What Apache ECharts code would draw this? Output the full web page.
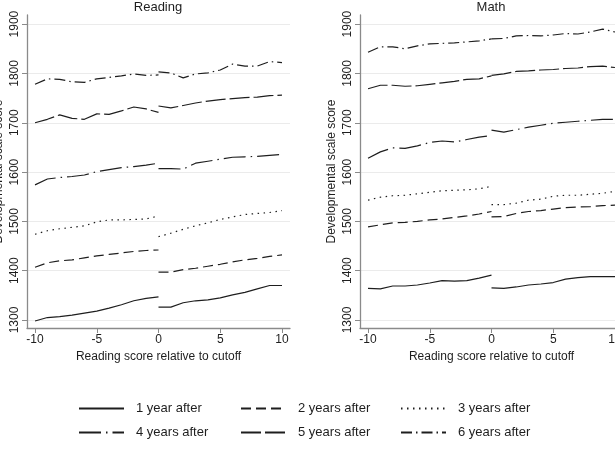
<!DOCTYPE html>
<html>
<head>
<meta charset="utf-8">
<script src="https://cdn.jsdelivr.net/npm/echarts@6/dist/echarts.min.js"></script>
<style>
  html, body { margin: 0; padding: 0; background: #fff; }
  #chart { width: 615px; height: 461px; }
</style>
</head>
<body>
<div id="chart"></div>
<script>
// score relative to cutoff, below and above (both segments meet at 0)
var xBelow = [-10, -9, -8, -7, -6, -5, -4, -3, -2, -1, 0];
var xAbove = [0, 1, 2, 3, 4, 5, 6, 7, 8, 9, 10];

var yearNames = ['1 year after', '2 years after', '3 years after',
                 '4 years after', '5 years after', '6 years after'];

var xTicks = [-10, -5, 0, 5, 10];
var yTicks = [1300, 1400, 1500, 1600, 1700, 1800, 1900];

// Reading panel, one row per year after
var readingBelow = [
  [1298, 1305, 1307, 1310, 1314, 1318, 1324, 1331, 1339, 1344, 1347],
  [1407, 1416, 1420, 1422, 1426, 1430, 1433, 1436, 1439, 1441, 1442],
  [1474, 1481, 1485, 1488, 1491, 1499, 1503, 1503, 1504, 1505, 1511],
  [1574, 1586, 1589, 1591, 1594, 1601, 1605, 1609, 1611, 1614, 1618],
  [1700, 1707, 1716, 1709, 1707, 1718, 1717, 1724, 1732, 1728, 1721],
  [1778, 1789, 1788, 1783, 1782, 1789, 1792, 1795, 1799, 1796, 1797]
];
var readingAbove = [
  [1326, 1326, 1335, 1339, 1341, 1345, 1351, 1356, 1363, 1370, 1370],
  [1397, 1397, 1402, 1405, 1409, 1413, 1418, 1422, 1425, 1429, 1432],
  [1469, 1476, 1484, 1491, 1497, 1504, 1509, 1514, 1516, 1518, 1522],
  [1607, 1607, 1606, 1618, 1622, 1626, 1630, 1631, 1632, 1634, 1636],
  [1734, 1730, 1735, 1740, 1744, 1747, 1749, 1751, 1752, 1755, 1756],
  [1803, 1801, 1791, 1799, 1801, 1807, 1819, 1815, 1815, 1824, 1822]
];

// Math panel
var mathBelow = [
  [1364, 1363, 1369, 1369, 1371, 1375, 1380, 1379, 1380, 1385, 1391],
  [1489, 1493, 1497, 1498, 1500, 1503, 1505, 1508, 1511, 1515, 1520],
  [1543, 1549, 1552, 1553, 1556, 1559, 1562, 1563, 1564, 1566, 1571],
  [1628, 1641, 1649, 1648, 1653, 1660, 1663, 1661, 1666, 1671, 1674],
  [1769, 1776, 1776, 1774, 1775, 1778, 1781, 1784, 1788, 1789, 1795],
  [1843, 1854, 1854, 1850, 1856, 1860, 1861, 1862, 1864, 1866, 1870]
];
var mathAbove = [
  [1365, 1364, 1367, 1371, 1373, 1376, 1383, 1386, 1388, 1388, 1388],
  [1509, 1510, 1516, 1520, 1522, 1525, 1528, 1529, 1530, 1532, 1533],
  [1534, 1534, 1537, 1543, 1545, 1551, 1553, 1553, 1555, 1557, 1561],
  [1685, 1681, 1686, 1691, 1695, 1699, 1701, 1703, 1705, 1707, 1707],
  [1796, 1799, 1804, 1805, 1807, 1808, 1810, 1811, 1814, 1815, 1812],
  [1870, 1871, 1876, 1877, 1876, 1878, 1881, 1880, 1884, 1890, 1884]
];

var FONT = 'Liberation Sans, Arial, sans-serif';
var INK = '#1e1e1e';
var AXIS = '#8a8a8a';
// stata-like patterns: solid, dash, dot, longdash-dot, longdash, dash-dot
var dashTypes = ['solid', [10, 5], [1.5, 4.5], [22, 5, 1.5, 5], [20, 4], [11, 4, 1.5, 4]];

function pairs(xs, ys) {
  return xs.map(function(x, i) { return [x, ys[i]]; });
}

var series = [];
function addPanel(below, above, idx) {
  for (var k = 0; k < 6; k++) {
    [pairs(xBelow, below[k]), pairs(xAbove, above[k])].forEach(function(d) {
      series.push({
        name: yearNames[k],
        type: 'line',
        xAxisIndex: idx,
        yAxisIndex: idx,
        symbol: 'none',
        silent: true,
        animation: false,
        itemStyle: { color: INK },
        lineStyle: { color: INK, width: 1.2, type: dashTypes[k] },
        data: d
      });
    });
  }
}
addPanel(readingBelow, readingAbove, 0);
addPanel(mathBelow, mathAbove, 1);

function plain(v) { return String(v); }

function xAxisOpt(idx) {
  return {
    type: 'value', gridIndex: idx, min: -10.65, max: 10.65,
    name: 'Reading score relative to cutoff',
    nameLocation: 'middle', nameGap: 18,
    nameTextStyle: { fontFamily: FONT, fontSize: 12, color: INK },
    axisLine: { onZero: false, lineStyle: { color: AXIS, width: 1.3 } },
    axisTick: { length: 5, customValues: xTicks, lineStyle: { color: AXIS } },
    axisLabel: { customValues: xTicks, margin: 6, formatter: plain,
                 fontFamily: FONT, fontSize: 12, color: INK },
    splitLine: { show: false }
  };
}
function yAxisOpt(idx) {
  return {
    type: 'value', gridIndex: idx, min: 1283.8, max: 1918.5,
    name: 'Developmental scale score',
    nameLocation: 'middle', nameGap: 22,
    nameTextStyle: { fontFamily: FONT, fontSize: 12, color: INK },
    axisLine: { show: true, onZero: false, lineStyle: { color: AXIS, width: 1.3 } },
    axisTick: { show: true, length: 5, customValues: yTicks, lineStyle: { color: AXIS } },
    axisLabel: { customValues: yTicks, rotate: 90, margin: 6, formatter: plain,
                 fontFamily: FONT, fontSize: 12, color: INK },
    splitLine: { show: true, customValues: yTicks, lineStyle: { color: '#ebebeb', width: 1 } }
  };
}

var legendPos = [
  [78, 402], [240, 402], [400, 402],
  [78, 426], [240, 426], [400, 426]
];
var legends = yearNames.map(function(n, i) {
  return {
    data: [n], left: legendPos[i][0], top: legendPos[i][1],
    padding: 0, itemWidth: 45, itemHeight: 14,
    selectedMode: false,
    itemStyle: { opacity: 0 },
    textStyle: { fontFamily: FONT, fontSize: 13, color: INK, padding: [0, 0, 0, 7] }
  };
});

var chart = echarts.init(document.getElementById('chart'));
chart.setOption({
  backgroundColor: '#fff',
  animation: false,
  title: [
    { text: 'Reading', left: 158, top: 1, textAlign: 'center', padding: 0,
      textStyle: { fontFamily: FONT, fontSize: 13, fontWeight: 'normal', color: INK } },
    { text: 'Math', left: 491, top: 1, textAlign: 'center', padding: 0,
      textStyle: { fontFamily: FONT, fontSize: 13, fontWeight: 'normal', color: INK } }
  ],
  legend: legends,
  grid: [
    { left: 27, top: 15, width: 263, height: 313, outerBoundsMode: 'none' },
    { left: 360, top: 15, width: 263, height: 313, outerBoundsMode: 'none' }
  ],
  xAxis: [xAxisOpt(0), xAxisOpt(1)],
  yAxis: [yAxisOpt(0), yAxisOpt(1)],
  series: series
});
</script>
</body>
</html>
